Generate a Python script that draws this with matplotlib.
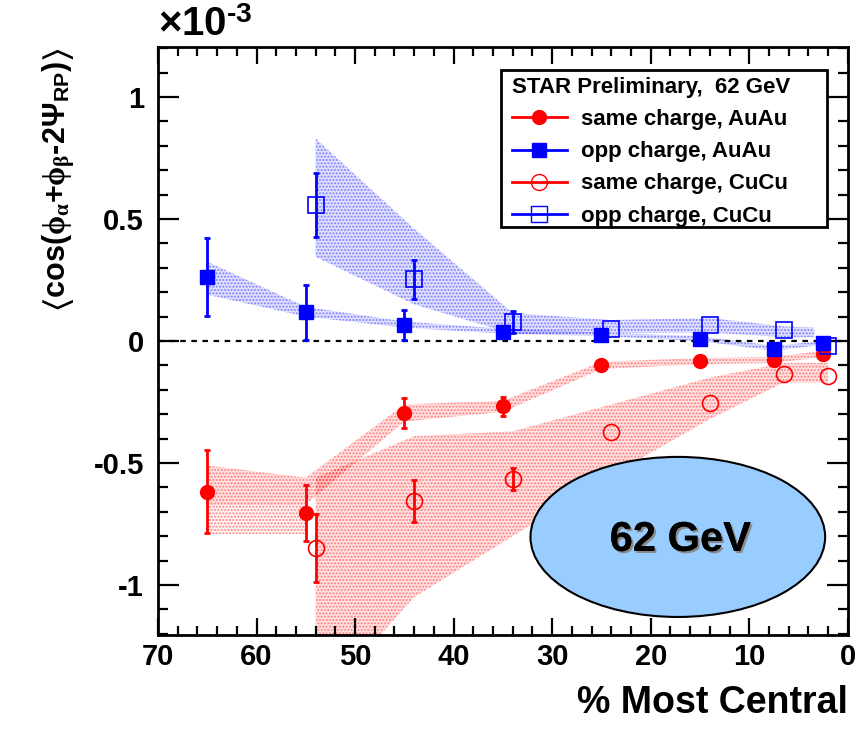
import matplotlib
matplotlib.use("Agg")
import matplotlib.pyplot as plt
import matplotlib.patches as mpatches
import matplotlib.patheffects as pe
from matplotlib.lines import Line2D
from matplotlib.ticker import MultipleLocator

plt.rcParams['font.family'] = ['Liberation Sans', 'DejaVu Sans']
plt.rcParams['font.weight'] = 'bold'
plt.rcParams['mathtext.fontset'] = 'custom'
plt.rcParams['mathtext.rm'] = 'Liberation Sans:bold'
plt.rcParams['mathtext.bf'] = 'Liberation Sans:bold'
plt.rcParams['mathtext.it'] = 'Liberation Serif'
plt.rcParams['mathtext.fallback'] = 'stixsans'
plt.rcParams['hatch.linewidth'] = 1.0

# ---- data (units of 1e-3) ----
x_au = [65, 55, 45, 35, 25, 15, 7.5, 2.5]
same_au = [-0.617, -0.705, -0.295, -0.268, -0.098, -0.082, -0.078, -0.053]
same_au_err = [0.17, 0.115, 0.062, 0.04, 0.0, 0.0, 0.0, 0.0]
opp_au = [0.262, 0.118, 0.066, 0.036, 0.024, 0.008, -0.033, -0.008]
opp_au_err = [0.16, 0.112, 0.06, 0.02, 0.0, 0.0, 0.0, 0.0]

x_cu = [54, 44, 34, 24, 14, 6.5, 2]
same_cu = [-0.848, -0.656, -0.566, -0.373, -0.254, -0.136, -0.143]
same_cu_err = [0.14, 0.085, 0.045, 0.0, 0.0, 0.0, 0.0]
opp_cu = [0.557, 0.254, 0.078, 0.050, 0.066, 0.045, -0.020]
opp_cu_err = [0.13, 0.08, 0.045, 0.0, 0.0, 0.0, 0.0]

# systematic bands
same_au_sys_hi = [-0.51, -0.56, -0.26, -0.245, -0.085, -0.07, -0.065, -0.04]
same_au_sys_lo = [-0.67, -0.67, -0.33, -0.29, -0.115, -0.095, -0.09, -0.065]
same_au_sys2_x = [65, 55]
same_au_sys2_hi = [-0.67, -0.67]
same_au_sys2_lo = [-0.79, -0.79]
opp_au_sys_hi = [0.325, 0.14, 0.08, 0.05, 0.035, 0.02, -0.02, 0.0]
opp_au_sys_lo = [0.19, 0.10, 0.055, 0.03, 0.02, 0.0, -0.04, -0.015]
same_cu_sys_hi = [-0.56, -0.39, -0.37, -0.26, -0.15, -0.09, -0.09]
same_cu_sys_lo = [-1.5, -1.05, -0.80, -0.55, -0.32, -0.17, -0.17]
opp_cu_band_x = [54, 44, 34, 24, 14, 6.5, 3.4]
opp_cu_sys_hi = [0.83, 0.46, 0.115, 0.086, 0.094, 0.06, 0.055]
opp_cu_sys_lo = [0.345, 0.15, 0.03, 0.033, 0.035, 0.016, 0.015]

legend_title = "STAR Preliminary,  62 GeV"
labels = ["same charge, AuAu", "opp charge, AuAu", "same charge, CuCu", "opp charge, CuCu"]

RED = '#ff0000'
BLUE = '#0000ff'

fig = plt.figure(figsize=(8.66, 7.31), dpi=100)
ax = fig.add_axes([0.1824, 0.1313, 0.7966, 0.8044])


def band(x, lo, hi, col, hatch, a=0.12):
    ax.fill_between(x, lo, hi, facecolor=col, alpha=a, linewidth=0, zorder=1)
    ax.fill_between(x, lo, hi, facecolor='none', edgecolor=col, alpha=0.4,
                    hatch=hatch, linewidth=0, zorder=1)


band(x_cu, same_cu_sys_lo, same_cu_sys_hi, RED, '.....')
band(x_au, same_au_sys_lo, same_au_sys_hi, RED, '.....')
band(same_au_sys2_x, same_au_sys2_lo, same_au_sys2_hi, RED, '.....', a=0.06)
band(opp_cu_band_x, opp_cu_sys_lo, opp_cu_sys_hi, BLUE, '.....')
band(x_au, opp_au_sys_lo, opp_au_sys_hi, BLUE, '.....')

ax.axhline(0, color='black', lw=1.6, ls=(0, (2.5, 2.5)), zorder=2)


def errbars(x, y, e, col):
    xs = [a for a, b in zip(x, e) if b > 0]
    ys = [a for a, b in zip(y, e) if b > 0]
    es = [b for b in e if b > 0]
    ax.errorbar(xs, ys, yerr=es, fmt='none', ecolor=col, elinewidth=2,
                capsize=2.5, capthick=2, zorder=3)


ms = 10
errbars(x_au, same_au, same_au_err, RED)
errbars(x_au, opp_au, opp_au_err, BLUE)
errbars(x_cu, same_cu, same_cu_err, RED)
errbars(x_cu, opp_cu, opp_cu_err, BLUE)
ax.plot(x_au, same_au, 'o', color=RED, ms=ms, zorder=4)
ax.plot(x_au, opp_au, 's', color=BLUE, ms=ms, zorder=4)
ax.plot(x_cu, same_cu, 'o', color=RED, mfc='none', ms=ms + 1.5, mew=1.2, zorder=4)
ax.plot(x_cu, opp_cu, 's', color=BLUE, mfc='none', ms=ms + 1, mew=1.2, zorder=4)

ell = mpatches.Ellipse((17.25, -0.803), 29.9, 0.656, facecolor='#99ccff',
                       edgecolor='black', lw=1.5, zorder=5)
ax.add_patch(ell)
ax.text(17.0, -0.815, "62 GeV", ha='center', va='center', fontsize=30,
        fontweight='bold', zorder=6,
        path_effects=[pe.withSimplePatchShadow(offset=(1.5, -1.5),
                                               shadow_rgbFace='#888888', alpha=1.0),
                      pe.Normal()])

ax.set_xlim(70, 0)
ax.set_ylim(-1.205, 1.205)
ax.xaxis.set_major_locator(MultipleLocator(10))
ax.xaxis.set_minor_locator(MultipleLocator(2))
ax.yaxis.set_minor_locator(MultipleLocator(0.1))
ax.set_yticks([-1, -0.5, 0, 0.5, 1])
ax.set_yticklabels(['-1', '-0.5', '0', '0.5', '1'])

ax.tick_params(axis='both', which='both', direction='in', top=True, right=True, width=1.6)
ax.tick_params(axis='y', which='major', length=15, labelsize=21, pad=10)
ax.tick_params(axis='y', which='minor', length=7.5)
ax.tick_params(axis='x', which='major', length=12, labelsize=21, pad=6)
ax.tick_params(axis='x', which='minor', length=6.5)
for lab in ax.get_xticklabels() + ax.get_yticklabels():
    lab.set_fontweight('bold')
for s in ax.spines.values():
    s.set_linewidth(2)

ax.set_xlabel("% Most Central", fontsize=27, fontweight='bold', loc='right', labelpad=10)
ax.set_ylabel(r"$\left\langle\mathbf{cos(}\phi_{\alpha}\mathbf{+}\phi_{\beta}"
              "\u2010" r"\mathbf{2}\Psi_{\mathbf{RP}}\mathbf{)}\right\rangle$",
              fontsize=22, loc='top', labelpad=12)

fig.text(158 / 866, 1 - 44 / 731, r"$\times\mathbf{10}^{\mathbf{" "\u2010" r"3}}$",
         fontsize=29, ha='left', va='bottom')

# legend frame drawn as a box, entries placed inside
ax.add_patch(mpatches.Rectangle((0.497, 0.694), 0.473, 0.267, transform=ax.transAxes,
                                facecolor='white', edgecolor='black', lw=2, zorder=9))
handles = [
    Line2D([], [], color=RED, marker='o', ms=ms, lw=2),
    Line2D([], [], color=BLUE, marker='s', ms=ms, lw=2),
    Line2D([], [], color=RED, marker='o', mfc='none', ms=ms + 1.5, lw=2),
    Line2D([], [], color=BLUE, marker='s', mfc='none', ms=ms + 1, lw=2),
]
leg = ax.legend(handles, labels, title=legend_title, loc='upper left',
                bbox_to_anchor=(0.487, 0.979), frameon=False,
                prop={'size': 16, 'weight': 'bold'},
                title_fontproperties={'size': 16, 'weight': 'bold'},
                handlelength=2.5, handletextpad=0.6, labelspacing=0.5,
                borderpad=0.3, alignment='left')
leg.set_zorder(10)

fig.savefig("out.png", dpi=100)
